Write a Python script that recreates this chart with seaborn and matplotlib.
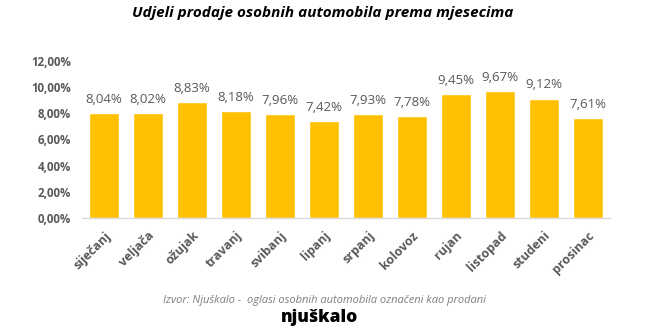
import matplotlib
matplotlib.use("Agg")
import matplotlib.pyplot as plt
import seaborn as sns
import pandas as pd

months = ["siječanj", "veljača", "ožujak", "travanj", "svibanj", "lipanj",
          "srpanj", "kolovoz", "rujan", "listopad", "studeni", "prosinac"]
shares = [8.04, 8.02, 8.83, 8.18, 7.96, 7.42, 7.93, 7.78, 9.45, 9.67, 9.12, 7.61]
yticks = [0, 2, 4, 6, 8, 10, 12]
title = "Udjeli prodaje osobnih automobila prema mjesecima"
source = "Izvor: Njuškalo -  oglasi osobnih automobila označeni kao prodani"
logo = "njuškalo"

sns.set_style("white")
plt.rcParams["font.family"] = ["Open Sans", "DejaVu Sans"]

df = pd.DataFrame({"month": months, "share": shares})

fig = plt.figure(figsize=(6.6, 3.29), dpi=100)
ax = fig.add_axes([82/660, 1-218/329, 528/660, 157/329])

sns.barplot(data=df, x="month", y="share", color="#FFC000", saturation=1,
            width=0.66, ax=ax)

ax.set_ylim(0, 12)
ax.set_xlim(-0.5, 11.5)
ax.set_yticks(yticks)
ax.set_yticklabels([f"{v:.2f}".replace(".", ",") + "%" for v in yticks],
                   fontsize=8.3, fontweight="bold", color="#595959")
ax.set_xticks(range(len(months)))
ax.set_xticklabels(months, rotation=45, ha="right", rotation_mode="anchor",
                   fontsize=9, fontweight="bold", color="#595959")
ax.tick_params(axis="y", length=0, pad=8)
ax.tick_params(axis="x", length=0, pad=8)
ax.set_xlabel("")
ax.set_ylabel("")

for s in ["top", "right", "left"]:
    ax.spines[s].set_visible(False)
ax.spines["bottom"].set_color("#D9D9D9")
ax.spines["bottom"].set_linewidth(1)

for i, v in enumerate(shares):
    ax.text(i, v + 0.55, f"{v:.2f}".replace(".", ",") + "%", ha="center",
            va="bottom", fontsize=9.5, color="#595959")

fig.text(323/660, 1-13/329, title, ha="center", va="center", fontsize=11,
         fontweight="bold", fontstyle="italic", color="#000000")
fig.text(324/660, 1-300/329, source, ha="center", va="center", fontsize=8,
         fontstyle="italic", color="#7F7F7F")
fig.text(320/660, 1-317/329, logo, ha="center", va="center", fontsize=12.5,
         fontweight="heavy", color="#000000")

fig.savefig("out.png", dpi=100)
